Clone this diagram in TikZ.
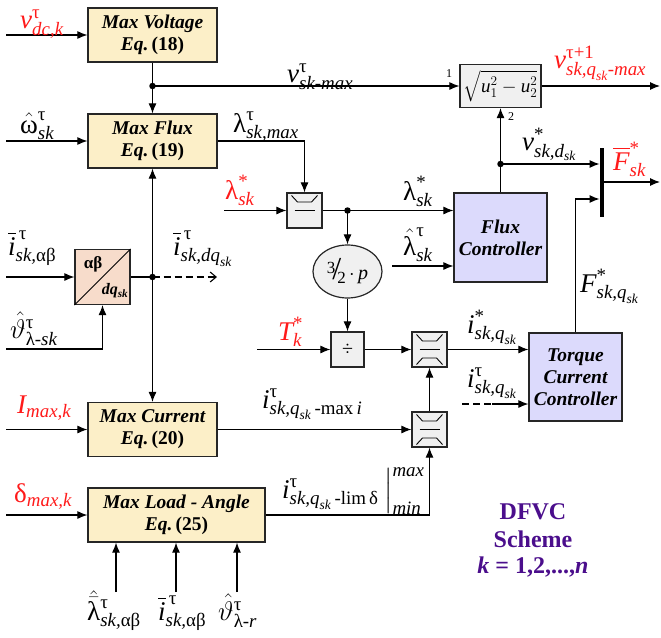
\RequirePackage{fix-cm}
\documentclass[tikz,border=0pt]{standalone}
\usepackage{amsmath}
\usepackage{fontspec}
\setmainfont{Liberation Serif}
\usetikzlibrary{arrows.meta,shapes.geometric,calc}
\definecolor{eqY}{HTML}{FCEFC8}
\definecolor{abP}{HTML}{F7DCCB}
\definecolor{ctlB}{HTML}{DCDAFC}
\definecolor{limG}{HTML}{F0F0F0}
\definecolor{rd}{HTML}{FF1A1A}
\definecolor{dfvc}{HTML}{4B0E8C}
\newcommand\tx[1]{\text{\itshape #1}}
\newcommand\tu[1]{\text{\upshape #1}}
\newcommand\limtop[1]{\draw[line width=0.9pt] ($(#1.center)+(-13,-15)$) -- ++(6,6.5) -- ++(14,0) -- ++(6,-6.5);
  \draw[line width=0.9pt] ($(#1.center)+(-10,0)$) -- ++(20,0);}
\newcommand\limbot[1]{\draw[line width=0.9pt] ($(#1.center)+(-13,15)$) -- ++(6,-6.5) -- ++(14,0) -- ++(6,6.5);}
\begin{document}
\begin{tikzpicture}[x=1pt,y=-1pt,
  box/.style={draw=black!85, line width=1.2pt, inner sep=0pt, align=center, font=\fontsize{19.5}{22}\selectfont\bfseries\itshape},
  eq/.style={box, fill=eqY, minimum height=54pt},
  ctl/.style={box, fill=ctlB, minimum width=93pt},
  limbox/.style={draw=black!85, line width=1.2pt, fill=limG, minimum width=35pt, minimum height=35pt, inner sep=0pt},
  lbl/.style={inner sep=0pt, anchor=base west, font=\fontsize{27}{30}\selectfont},
  conn/.style={line width=1.1pt, -{Latex[length=10pt,width=8pt]}},
  wire/.style={line width=1.1pt},
  dsh/.style={dash pattern=on 7pt off 4pt},
  jdot/.style={circle, fill=black, inner sep=0pt, minimum size=6.5pt},
]
\useasboundingbox (0,0) rectangle (661,637);

% blocks
\node[eq, minimum width=129pt] (mv) at (152.5,35) {Max Voltage\\Eq.\,\textup{(18)}};
\node[eq, minimum width=129pt] (mf) at (152.5,141) {Max Flux\\Eq.\,\textup{(19)}};
\node[eq, minimum width=129pt] (mc) at (152.5,429.5) {Max Current\\Eq.\,\textup{(20)}};
\node[eq, minimum width=177pt] (ml) at (176.5,515) {Max Load - Angle\\Eq.\,\textup{(25)}};
\node[box, fill=abP, minimum width=55pt, minimum height=55pt] (abdq) at (102.5,277) {};
\draw[line width=1pt] (abdq.south west) -- (abdq.north east);
\node[inner sep=0pt, font=\fontsize{17}{17}\selectfont\bfseries] (abt) at (93,264) {αβ};
\node[inner sep=0pt, font=\fontsize{16}{16}\selectfont\bfseries\itshape] (dqt) at (115,291) {dq$_{\text{sk}}$};
\node[limbox] (lim1) at (304.5,210.5) {};
\limtop{lim1}
\node[limbox, minimum width=81pt, minimum height=43pt] (sq) at (500.5,86) {\fontsize{19}{19}\selectfont$\sqrt{\tx{u}_1^2-\tx{u}_2^2}$};
\node[ctl, minimum height=89pt] (fc) at (500.5,237.5) {Flux\\Controller};
\node[ellipse, draw=black!85, line width=1.2pt, fill=limG, minimum width=69pt, minimum height=53pt, inner sep=0pt] (ell) at (347.5,271.5)
  {\raisebox{6pt}{\fontsize{17}{17}\selectfont 3}\kern-3pt{\fontsize{32}{32}\selectfont /}\kern-4pt\raisebox{-4pt}{\fontsize{17}{17}\selectfont 2}{\fontsize{20}{20}\selectfont$\,\cdot\,$\textit{p}}};
\node[limbox, minimum width=33pt] (dv) at (347.5,349.5) {\fontsize{20}{20}\selectfont ÷};
\node[limbox] (lim2) at (429.5,349.5) {};
\limtop{lim2}\limbot{lim2}
\node[limbox] (lim3) at (429.5,429.5) {};
\limtop{lim3}\limbot{lim3}
\node[ctl, minimum height=88pt] (tc) at (575.5,377) {Torque\\Current\\Controller};
\node[fill=black, minimum width=4.5pt, minimum height=69pt, inner sep=0pt] (bar) at (602,182.5) {};

% connectors
\coordinate (i_vdc) at (6,35);
\draw[conn] (i_vdc) -- (mv.west);
\coordinate (j1) at (152.5,86);
\draw[conn] (mv.south) -- (mf.north);
\draw[conn] (j1) -- (j1 -| sq.west);
\coordinate (i_w) at (6,141);
\draw[conn] (i_w) -- (mf.west);
\draw[conn] (mf.east) -| (lim1.north);
\coordinate (i_ls) at (224,210.5);
\draw[conn] (i_ls) -- (lim1.west);
\coordinate (j2) at (347.5,210.5);
\draw[conn] (lim1.east) -- (lim1.east -| fc.west);
\draw[conn] (j2) -- (ell.north);
\coordinate (i_lh) at (392,266);
\draw[conn] (i_lh) -- (i_lh -| fc.west);
\coordinate (j3) at (500.5,164);
\draw[wire] (fc.north) -- (j3);
\draw[conn] (j3) -- (sq.south);
\draw[conn] (j3) -- (j3 -| bar.west);
\coordinate (o_F) at (660,182);
\draw[conn] (bar.east |- o_F) -- (o_F);
\coordinate (o_v) at (660,86);
\draw[conn] (sq.east) -- (o_v);
\draw[conn] (ell.south) -- (dv.north);
\coordinate (i_T) at (257,349.5);
\draw[conn] (i_T) -- (dv.west);
\draw[conn] (dv.east) -- (lim2.west);
\draw[conn] (lim2.east) -- (lim2.east -| tc.west);
\coordinate (i_iq) at (462,404);
\coordinate (m_iq) at (492,404);
\draw[wire, dsh] (i_iq) -- (m_iq);
\draw[conn] (m_iq) -- (m_iq -| tc.west);
\coordinate (c_F) at (575.5,199);
\draw[conn] (tc.north) -- (c_F) -- (c_F -| bar.west);
\draw[conn] (mc.east) -- (lim3.west);
\draw[conn] (ml.east) -| (lim3.south);
\draw[conn] (lim3.north) -- (lim2.south);
\coordinate (i_I) at (6,429.5);
\draw[conn] (i_I) -- (mc.west);
\coordinate (i_d) at (6,515);
\draw[conn] (i_d) -- (ml.west);
\coordinate (j4) at (152.5,277);
\draw[conn] (j4) -- (mf.south);
\draw[conn] (j4) -- (mc.north);
\draw[wire] (abdq.east) -- (j4);
\coordinate (o_idq) at (217,277);
\draw[wire, dsh, -{Straight Barb[length=6pt,width=10pt]}] (j4) -- (o_idq);
\coordinate (i_i) at (6,277);
\draw[conn] (i_i) -- (abdq.west);
\coordinate (i_th) at (6,349);
\draw[conn] (i_th) -| (abdq.south);
\coordinate (b1) at (116,592);
\coordinate (b2) at (176,592);
\coordinate (b3) at (237,592);
\draw[conn] (b1) -- (b1 |- ml.south);
\draw[conn] (b2) -- (b2 |- ml.south);
\draw[conn] (b3) -- (b3 |- ml.south);
\node[jdot] (d1) at (j1) {};
\node[jdot] (d2) at (j2) {};
\node[jdot] (d3) at (j3) {};
\node[jdot] (d4) at (j4) {};
\node[inner sep=0pt, font=\fontsize{12}{12}\selectfont] (n1) at (449,74) {1};
\node[inner sep=0pt, font=\fontsize{12}{12}\selectfont] (n2) at (511,117) {2};

% labels
\node[lbl, text=rd] (L_vdc) at (20,28) {$\tx{v}^{\tu{τ}}_{\tx{dc,k}}$};
\node[lbl] (L_vmax) at (287,82) {$\tx{v}^{\tu{τ}}_{\tx{sk-max}}$};
\node[lbl] (L_w) at (20,133) {$\hat{\tu{ω}}^{\tu{τ}}_{\tx{sk}}$};
\node[lbl] (L_lmax) at (233,132) {$\tu{λ}^{\tu{τ}}_{\tx{sk,max}}$};
\node[lbl, text=rd] (L_ls) at (225,199) {$\tu{λ}^{\tu{*}}_{\tx{sk}}$};
\node[lbl] (L_iab) at (8,255) {$\overline{\tx{i}}^{\,\tu{τ}}_{\tx{sk,}\tu{αβ}}$};
\node[lbl] (L_th) at (10,338) {$\hat{\vartheta}^{\tu{τ}}_{\tu{λ}\tx{-sk}}$};
\node[lbl] (L_idq) at (173,255) {$\overline{\tx{i}}^{\,\tu{τ}}_{\tx{sk,dq}_{\tx{sk}}}$};
\node[lbl] (L_lsb) at (403,200) {$\tu{λ}^{\tu{*}}_{\tx{sk}}$};
\node[lbl] (L_lh) at (403,255) {$\hat{\tu{λ}}^{\tu{τ}}_{\tx{sk}}$};
\node[lbl] (L_vd) at (522,150) {$\tx{v}^{\tu{*}}_{\tx{sk,d}_{\tx{sk}}}$};
\node[lbl, text=rd] (L_vq) at (554,68) {$\tx{v}^{\tu{τ+1}}_{\tx{sk,q}_{\tx{sk}}\tx{-max}}$};
\node[lbl, text=rd] (L_Fb) at (613,170) {$\overline{\tx{F}}^{\tu{*}}_{\tx{sk}}$};
\node[lbl] (L_Fq) at (580,292) {$\tx{F}^{\tu{*}}_{\tx{sk,q}_{\tx{sk}}}$};
\node[lbl, text=rd] (L_T) at (278,340) {$\tx{T}^{\tu{*}}_{\tx{k}}$};
\node[lbl] (L_is) at (467,333) {$\tx{i}^{\tu{*}}_{\tx{sk,q}_{\tx{sk}}}$};
\node[lbl] (L_it) at (467,387) {$\tx{i}^{\tu{τ}}_{\tx{sk,q}_{\tx{sk}}}$};
\node[lbl, text=rd] (L_I) at (17,413) {$\tx{I}_{\tx{max,k}}$};
\node[lbl] (L_imax) at (262,408) {$\tx{i}^{\tu{τ}}_{\tx{sk,q}_{\tx{sk}}\tu{\,-max}\,\tx{i}}$};
\node[lbl, text=rd] (L_d) at (14,502) {$\tu{δ}_{\tx{max,k}}$};
\node[lbl] (L_ilim) at (282,498) {$\tx{i}^{\tu{τ}}_{\tx{sk,q}_{\tx{sk}}\tu{\,-lim}\,\tu{δ}}\left.\rule[-10pt]{0pt}{36pt}\right|^{\tx{max}}_{\tx{min}}$};
\node[lbl] (L_b1) at (87,620) {$\hat{\bar{\tu{λ}}}^{\tu{τ}}_{\tx{sk,}\tu{αβ}}$};
\node[lbl] (L_b2) at (158,620) {$\overline{\tx{i}}^{\,\tu{τ}}_{\tx{sk,}\tu{αβ}}$};
\node[lbl] (L_b3) at (218,620) {$\hat{\vartheta}^{\tu{τ}}_{\tu{λ}\tx{-r}}$};

% title
\node[inner sep=0pt, anchor=base, text=dfvc, font=\fontsize{24}{27}\selectfont\bfseries] (t1) at (533,519) {DFVC};
\node[inner sep=0pt, anchor=base, text=dfvc, font=\fontsize{24}{27}\selectfont\bfseries] (t2) at (533,547) {Scheme};
\node[inner sep=0pt, anchor=base, text=dfvc, font=\fontsize{24}{27}\selectfont\bfseries] (t3) at (533,573) {\textit{k} = 1,2,...,\textit{n}};
\end{tikzpicture}
\end{document}
